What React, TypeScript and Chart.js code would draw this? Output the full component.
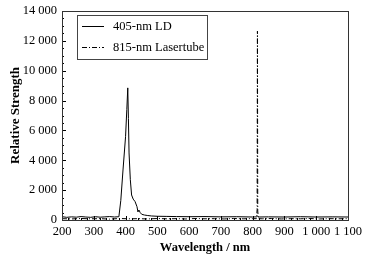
import React, { useEffect, useRef } from "react";
import { Chart, registerables } from "chart.js";

Chart.register(...registerables);

const ldLabel = "405-nm LD";
const ltLabel = "815-nm Lasertube";

const ldWavelength = [200, 215, 230, 245, 260, 275, 290, 305, 320, 335, 350, 365, 379, 385, 392, 400, 404, 407, 409, 411, 415, 419, 424, 430, 436, 439, 442, 446, 451, 460, 470, 482, 500, 530, 560, 600, 650, 700, 750, 800, 812, 815, 818, 850, 900, 950, 1000, 1050, 1100];
const ldValue = [220, 180, 210, 190, 230, 200, 180, 220, 190, 210, 230, 200, 220, 1300, 3350, 5580, 7400, 8850, 6800, 4490, 2700, 1675, 1400, 1230, 890, 540, 670, 500, 380, 330, 300, 270, 250, 240, 230, 220, 230, 210, 220, 200, 210, 260, 200, 210, 200, 220, 200, 210, 200];

const ltWavelength = [200, 230, 260, 290, 320, 350, 380, 410, 440, 470, 500, 530, 560, 590, 620, 650, 680, 710, 740, 770, 800, 812, 814, 815, 816, 818, 830, 860, 890, 920, 950, 980, 1010, 1040, 1070, 1100];
const ltValue = [90, 70, 100, 80, 90, 60, 100, 80, 90, 70, 100, 80, 90, 70, 100, 80, 90, 70, 100, 80, 90, 90, 700, 12650, 600, 90, 80, 100, 70, 90, 80, 100, 70, 90, 80, 90];

const xTicks = [200, 300, 400, 500, 600, 700, 800, 900, 1000, 1100];
const yTicks = [0, 2000, 4000, 6000, 8000, 10000, 12000, 14000];

const fmt = (v: number) => {
  const s = String(Math.round(v));
  return s.length > 3 ? s.slice(0, s.length - 3) + " " + s.slice(-3) : s;
};

const FONT = "'Liberation Serif', 'Times New Roman', serif";

const framePlugin = {
  id: "frame",
  afterDatasetsDraw(chart: any) {
    const { ctx, chartArea } = chart;
    const xs = chart.scales.x;
    const ys = chart.scales.y;
    const { left, right, top, bottom } = chartArea;
    ctx.save();
    ctx.strokeStyle = "#000";
    ctx.lineWidth = 1;
    ctx.setLineDash([]);
    ctx.beginPath();
    for (let v = xs.min; v <= xs.max + 0.001; v += 20) {
      const px = Math.round(xs.getPixelForValue(v)) + 0.5;
      const len = v % 100 === 0 ? 4 : 2;
      ctx.moveTo(px, bottom);
      ctx.lineTo(px, bottom - len);
    }
    for (let v = ys.min; v <= ys.max + 0.001; v += 500) {
      const py = Math.round(ys.getPixelForValue(v)) + 0.5;
      const len = v % 2000 === 0 ? 4 : 2;
      ctx.moveTo(left, py);
      ctx.lineTo(left + len, py);
    }
    ctx.stroke();
    ctx.strokeStyle = "#333";
    ctx.strokeRect(Math.round(left) + 0.5, Math.round(top) + 0.5, Math.round(right - left), Math.round(bottom - top));

    const bx = left + 15, by = top + 4, bw = 130, bh = 44;
    ctx.strokeStyle = "#444";
    ctx.strokeRect(Math.round(bx) + 0.5, Math.round(by) + 0.5, bw, bh);
    const rows = chart.data.datasets;
    ctx.font = "12.5px " + FONT;
    ctx.fillStyle = "#000";
    ctx.textBaseline = "middle";
    rows.forEach((ds: any, i: number) => {
      const ry = Math.round(by + 11 + i * 21) + 0.5;
      ctx.beginPath();
      ctx.strokeStyle = "#000";
      ctx.setLineDash(ds.borderDash || []);
      ctx.moveTo(bx + 5, ry);
      ctx.lineTo(bx + 27, ry);
      ctx.stroke();
      ctx.setLineDash([]);
      ctx.fillText(ds.label, bx + 36, ry);
    });
    ctx.restore();
  },
};

export default function App() {
  const ref = useRef<HTMLCanvasElement | null>(null);
  useEffect(() => {
    document.body.style.margin = "0";
    const canvas = ref.current;
    if (!canvas) return;
    Chart.defaults.font.family = FONT;
    const chart = new Chart(canvas, {
      type: "line",
      data: {
        datasets: [
          {
            label: ldLabel,
            data: ldWavelength.map((x, i) => ({ x, y: ldValue[i] })),
            borderColor: "#000",
            borderWidth: 1,
            pointRadius: 0,
            tension: 0,
          },
          {
            label: ltLabel,
            data: ltWavelength.map((x, i) => ({ x, y: ltValue[i] })),
            borderColor: "#000",
            borderWidth: 1,
            borderDash: [5, 2, 1, 2],
            pointRadius: 0,
            tension: 0,
          },
        ],
      },
      options: {
        animation: false,
        responsive: false,
        layout: { padding: { left: 0, right: 30, top: 11, bottom: 0 } },
        plugins: { legend: { display: false }, tooltip: { enabled: false } },
        scales: {
          x: {
            type: "linear",
            min: 200,
            max: 1100,
            afterBuildTicks: (s: any) => {
              s.ticks = xTicks.map((v) => ({ value: v }));
            },
            afterFit: (s: any) => {
              s.height = 35;
              s.paddingLeft = 0;
              s.paddingRight = 0;
            },
            grid: { display: false, drawTicks: false },
            border: { display: false },
            ticks: {
              padding: 4,
              color: "#000",
              font: { size: 12.5, family: FONT },
              maxRotation: 0,
              autoSkip: false,
              callback: (v: any) => fmt(Number(v)),
            },
            title: {
              display: true,
              text: "Wavelength / nm",
              color: "#000",
              font: { size: 12.5, weight: "bold", family: FONT },
              padding: { top: 4, bottom: 0 },
            },
          },
          y: {
            type: "linear",
            min: 0,
            max: 14000,
            afterBuildTicks: (s: any) => {
              s.ticks = yTicks.map((v) => ({ value: v }));
            },
            afterFit: (s: any) => {
              s.width = 62;
              s.paddingTop = 0;
              s.paddingBottom = 0;
            },
            grid: { display: false, drawTicks: false },
            border: { display: false },
            ticks: {
              padding: 5,
              color: "#000",
              font: { size: 12.5, family: FONT },
              autoSkip: false,
              callback: (v: any) => fmt(Number(v)),
            },
            title: {
              display: true,
              text: "Relative Strength",
              color: "#000",
              font: { size: 13, weight: "bold", family: FONT },
              padding: { top: 8, bottom: 0 },
            },
          },
        },
      },
      plugins: [framePlugin],
    } as any);
    return () => chart.destroy();
  }, []);
  return (
    <div style={{ width: 378, height: 255, position: "relative", background: "#fff" }}>
      <canvas ref={ref} width={378} height={255} style={{ display: "block" }} />
    </div>
  );
}
